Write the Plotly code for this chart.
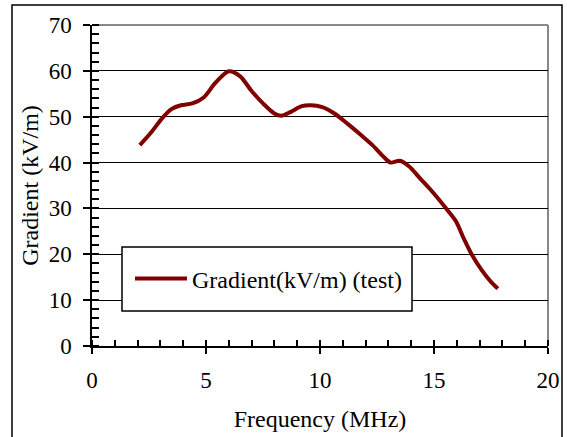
import plotly.graph_objects as go

freq = [2.1, 2.6, 3.1, 3.5, 3.9, 4.4, 4.9, 5.4, 6.0, 6.5, 7.0, 7.5, 8.0, 8.3, 8.7,
        9.2, 9.6, 10.1, 10.6, 11.2, 11.8, 12.3, 12.8, 13.1, 13.5, 13.9, 14.4, 14.9,
        15.5, 15.95, 16.3, 16.65, 17.1, 17.5, 17.8]
grad = [43.8, 46.6, 49.8, 51.7, 52.5, 52.9, 54.2, 57.3, 59.9, 58.8, 55.6, 52.9, 50.7,
        50.2, 51.0, 52.3, 52.5, 52.1, 50.8, 48.5, 46.0, 43.8, 41.2, 40.0, 40.4, 39.2,
        36.5, 33.8, 30.2, 27.3, 23.5, 20.0, 16.5, 14.0, 12.5]
series_name = "Gradient(kV/m) (test)"
x_title = "Frequency (MHz)"
y_title = "Gradient (kV/m)"

FONT = "Liberation Serif, Times New Roman, serif"
RED = "#800000"

fig = go.Figure()
fig.add_trace(go.Scatter(x=freq, y=grad, mode="lines", name=series_name,
                         line=dict(color=RED, width=4, shape="spline", smoothing=0.8)))

L, R, T, B = 92, 19, 25, 91
W, H = 567, 437
pw, ph = W - L - R, H - T - B

def px(x):
    return (x - L) / pw

def py(y):
    return (H - B - y) / ph

fig.update_layout(
    width=W, height=H,
    margin=dict(l=L, r=R, t=T, b=B, autoexpand=False),
    paper_bgcolor="white", plot_bgcolor="white",
    font=dict(family=FONT, size=23, color="black"),
    showlegend=True,
    legend=dict(x=px(130), y=py(279), xanchor="left", yanchor="middle",
                bgcolor="rgba(0,0,0,0)", borderwidth=0,
                font=dict(family=FONT, size=24),
                itemwidth=52, tracegroupgap=0),
    xaxis=dict(range=[0, 20], dtick=5, tick0=0, showgrid=False, zeroline=False,
               automargin=False,
               showline=True, linecolor="black", linewidth=1.5,
               ticks="outside", ticklen=6, tickcolor="black", tickwidth=1.5,
               ticklabelstandoff=7,
               minor=dict(dtick=1, ticks="inside", ticklen=6, tickcolor="black", showgrid=False),
               title=dict(text=x_title, font=dict(family=FONT, size=24), standoff=18)),
    xaxis2=dict(range=[0, 20], dtick=5, tick0=0, overlaying="x", anchor="y", side="bottom",
                showgrid=False, zeroline=False, showline=False, showticklabels=False,
                automargin=False,
                ticks="inside", ticklen=6, tickcolor="black", tickwidth=1.5),
    yaxis=dict(range=[0, 70], dtick=10, tick0=0, showgrid=True, gridcolor="black", gridwidth=1,
               automargin=False,
               zeroline=False, showline=True, linecolor="black", linewidth=1.5,
               ticks="outside", ticklen=7, tickcolor="black", tickwidth=1.5,
               ticklabelstandoff=7,
               minor=dict(dtick=2, ticks="inside", ticklen=7, tickcolor="black", showgrid=False),
               title=dict(text=y_title, font=dict(family=FONT, size=24), standoff=3)),
    shapes=[
        # plot area top and right border (gray)
        dict(type="line", xref="paper", yref="paper", x0=0, x1=1, y0=1, y1=1,
             line=dict(color="#888888", width=2), layer="below"),
        dict(type="line", xref="paper", yref="paper", x0=1, x1=1, y0=0, y1=1,
             line=dict(color="#888888", width=2), layer="below"),
        # legend box
        dict(type="rect", xref="paper", yref="paper",
             x0=px(122), x1=px(412), y0=py(247), y1=py(311),
             line=dict(color="black", width=1.5), fillcolor="white", layer="above"),
        # outer chart border
        dict(type="rect", xref="paper", yref="paper",
             x0=px(12), x1=px(562), y0=py(5), y1=py(445),
             line=dict(color="black", width=1.5), fillcolor="rgba(0,0,0,0)"),
    ],
)

fig.write_html("out.html", config={"displayModeBar": False},
               post_script="document.body.style.margin='0';")
